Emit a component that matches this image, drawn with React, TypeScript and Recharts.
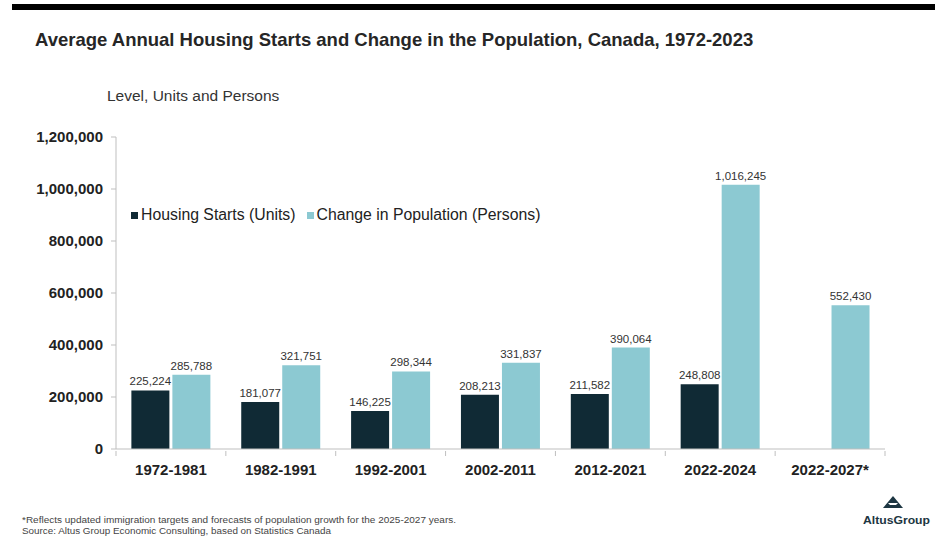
import React from 'react';
import { BarChart, Bar, XAxis, YAxis, LabelList, Legend } from 'recharts';

const categories = ['1972-1981', '1982-1991', '1992-2001', '2002-2011', '2012-2021', '2022-2024', '2022-2027*'];
const housingStarts: (number | null)[] = [225224, 181077, 146225, 208213, 211582, 248808, null];
const populationChange: number[] = [285788, 321751, 298344, 331837, 390064, 1016245, 552430];
const yTicks = [0, 200000, 400000, 600000, 800000, 1000000, 1200000];

const DARK = '#102a35';
const LIGHT = '#8cc9d2';
const FONT = "'Liberation Sans', Arial, sans-serif";

const data = categories.map((c, i) => ({
  period: c,
  housing: housingStarts[i],
  population: populationChange[i],
}));

const W = 935;
const H = 546;
const MARGIN = { top: 137, right: 50, bottom: 67, left: 16 };
const Y_WIDTH = 100;
const PLOT_W = W - MARGIN.left - Y_WIDTH - MARGIN.right;

const fmt = (v: any) => (v == null ? '' : Number(v).toLocaleString('en-US'));

const XTick = (props: any) => {
  const { x, y, payload, index } = props;
  const band = PLOT_W / categories.length;
  const axisY = y - 6;
  return (
    <g>
      <line x1={x - band / 2} x2={x - band / 2} y1={axisY} y2={axisY + 5} stroke="#bfbfbf" />
      {index === categories.length - 1 && (
        <line x1={x + band / 2} x2={x + band / 2} y1={axisY} y2={axisY + 5} stroke="#bfbfbf" />
      )}
      <text x={x} y={axisY + 24} textAnchor="middle" fontFamily={FONT} fontWeight="bold" fontSize={15} fill="#222">
        {payload.value}
      </text>
    </g>
  );
};

const LegendContent = (props: any) => {
  const items = props.payload || [];
  return (
    <div style={{ display: 'flex', alignItems: 'center', fontFamily: FONT, fontSize: 15.8, color: '#222', whiteSpace: 'nowrap' }}>
      {items.map((it: any, i: number) => (
        <div key={i} style={{ display: 'flex', alignItems: 'center', marginRight: 11 }}>
          <span style={{ display: 'inline-block', width: 7, height: 7, background: it.color, marginRight: 3 }} />
          <span>{it.value}</span>
        </div>
      ))}
    </div>
  );
};

export default function App() {
  return (
    <div style={{ position: 'absolute', left: 0, top: 0, width: W, height: H, background: '#fff', fontFamily: FONT }}>
      <div style={{ position: 'absolute', left: 12, top: 4, width: W - 12, height: 6, background: '#000' }} />
      <div style={{ position: 'absolute', left: 35, top: 29, fontSize: 18.5, fontWeight: 'bold', color: '#262626', whiteSpace: 'nowrap' }}>
        Average Annual Housing Starts and Change in the Population, Canada, 1972-2023
      </div>
      <div style={{ position: 'absolute', left: 107, top: 87, fontSize: 15.5, color: '#333', whiteSpace: 'nowrap' }}>
        Level, Units and Persons
      </div>
      <BarChart
        width={W}
        height={H}
        data={data}
        margin={MARGIN}
        barCategoryGap="14%"
        barGap={3}
      >
        <XAxis
          dataKey="period"
          height={30}
          axisLine={{ stroke: '#bfbfbf' }}
          tickLine={false}
          tick={<XTick />}
          interval={0}
        />
        <YAxis
          width={Y_WIDTH}
          domain={[0, 1200000]}
          ticks={yTicks}
          tickFormatter={fmt}
          axisLine={{ stroke: '#bfbfbf' }}
          tickLine={{ stroke: '#bfbfbf' }}
          tickSize={5}
          tickMargin={8}
          tick={{ fontFamily: FONT, fontWeight: 'bold', fontSize: 15, fill: '#222' }}
        />
        <Legend
          content={<LegendContent />}
          layout="horizontal"
          verticalAlign="middle"
          align="center"
          itemSorter="dataKey"
          wrapperStyle={{ position: 'absolute', left: 131, top: 206, width: 'auto' }}
        />
        <Bar dataKey="housing" name="Housing Starts (Units)" fill={DARK} isAnimationActive={false}>
          <LabelList dataKey="housing" position="top" offset={5} formatter={fmt} style={{ fontFamily: FONT, fontSize: 11.5, fill: '#333' }} />
        </Bar>
        <Bar dataKey="population" name="Change in Population (Persons)" fill={LIGHT} isAnimationActive={false}>
          <LabelList dataKey="population" position="top" offset={5} formatter={fmt} style={{ fontFamily: FONT, fontSize: 11.5, fill: '#333' }} />
        </Bar>
      </BarChart>
      <svg style={{ position: 'absolute', left: 0, top: 0, pointerEvents: 'none' }} width={W} height={H}>
        <text x={22} y={523} fontFamily={FONT} fontSize={8.5} fill="#444" textLength={434} lengthAdjust="spacingAndGlyphs">
          *Reflects updated immigration targets and forecasts of population growth for the 2025-2027 years.
        </text>
        <text x={22} y={534} fontFamily={FONT} fontSize={8.5} fill="#444" textLength={309} lengthAdjust="spacingAndGlyphs">
          Source:  Altus Group Economic Consulting, based on Statistics Canada
        </text>
        <polygon points="893,496 883,508 903,508" fill="#1d3642" />
        <polygon points="888,503 898,503 896,505 890,505" fill="#fff" />
        <text x={863} y={524} fontFamily={FONT} fontSize={11.5} fontWeight="bold" fill="#1d3642" textLength={67} lengthAdjust="spacingAndGlyphs">
          AltusGroup
        </text>
      </svg>
    </div>
  );
}
